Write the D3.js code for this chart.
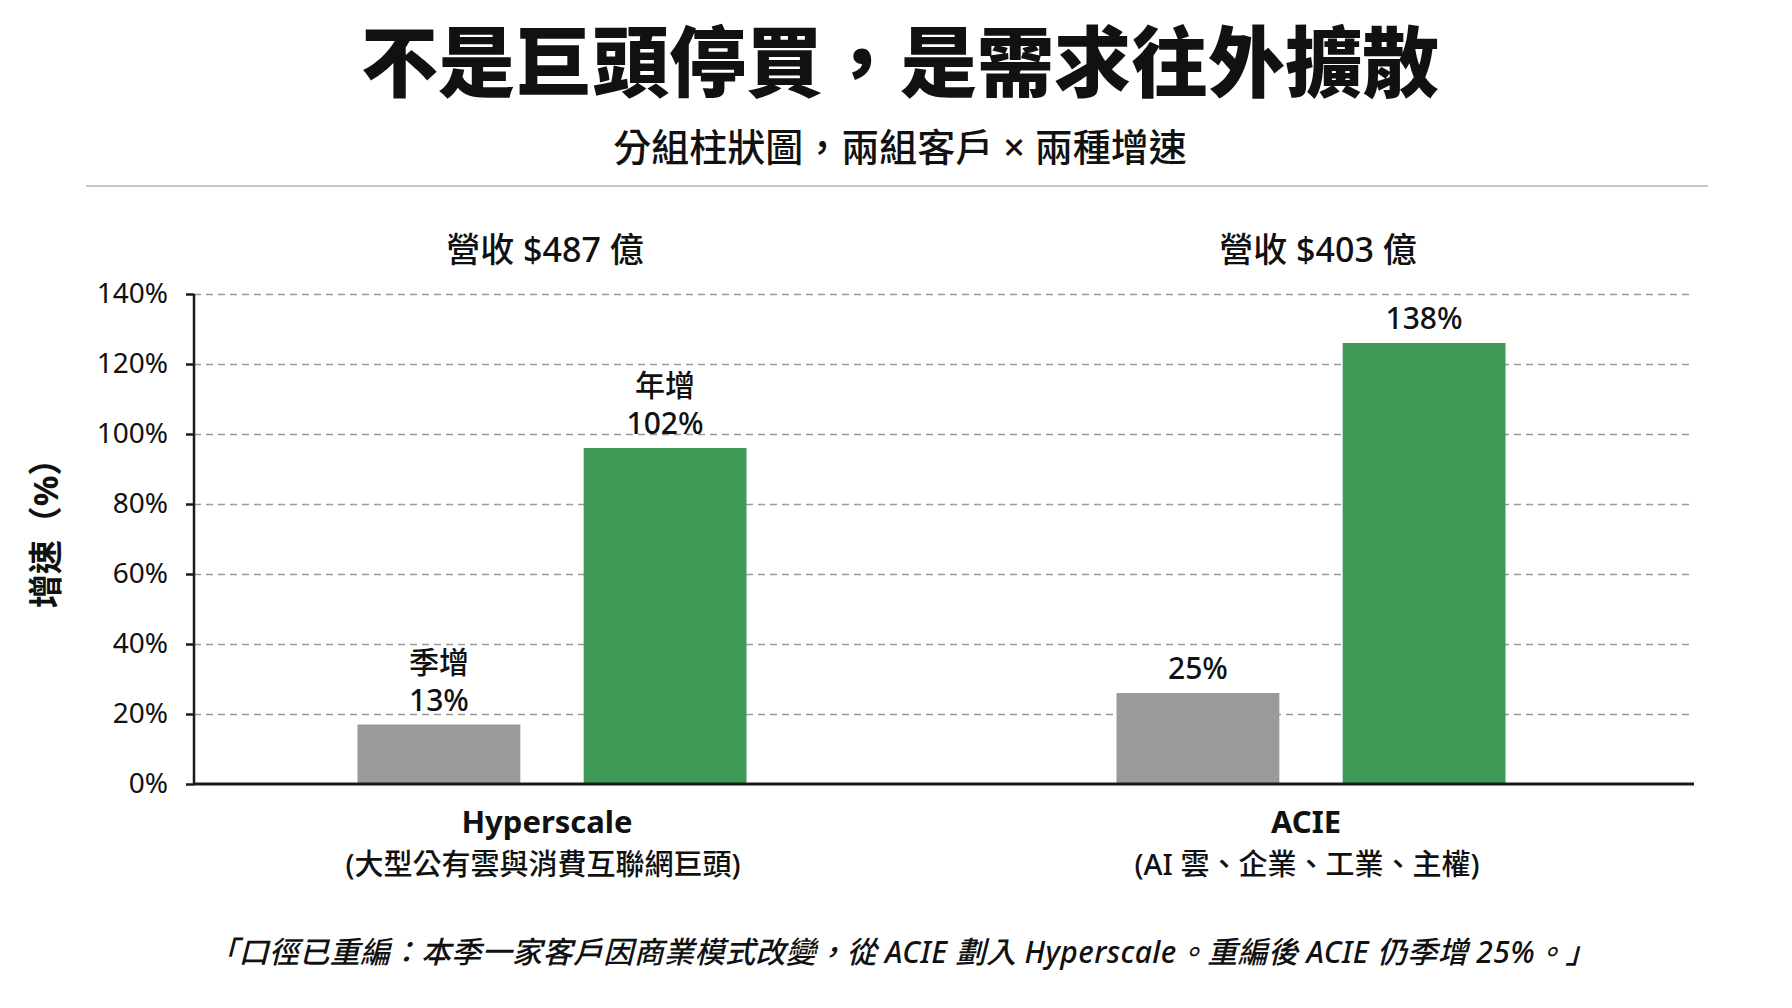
<!DOCTYPE html>
<html>
<head>
<meta charset="utf-8">
<script src="https://cdn.jsdelivr.net/npm/d3@7"></script>
<style>
  html, body { margin: 0; padding: 0; background: #ffffff; }
  svg { display: block; }
  text { font-family: "Noto Sans", "Noto Sans CJK TC", sans-serif; fill: #111; }
</style>
</head>
<body>
<div id="chart"></div>
<script>
// chart values
const groups = ["Hyperscale", "ACIE"];
const groupNotes = ["(大型公有雲與消費互聯網巨頭)", "(AI 雲、企業、工業、主權)"];
const groupRevenue = ["營收 $487 億", "營收 $403 億"];
const series = ["季增", "年增"];
const seriesColors = ["#9a9a9c", "#3f9a56"];
// bar heights as drawn in the picture (percent)
const qoqHeights = [17, 26];
const yoyHeights = [96, 126];
// text printed above each bar
const qoqLabels = [["季增", "13%"], ["25%"]];
const yoyLabels = [["年增", "102%"], ["138%"]];
const yTicks = [0, 20, 40, 60, 80, 100, 120, 140];

const titleText = "不是巨頭停買，是需求往外擴散";
const subtitleText = "分組柱狀圖，兩組客戶 × 兩種增速";
const yLabelText = "增速（%）";
const footnoteText = "「口徑已重編：本季一家客戶因商業模式改變，從 ACIE 劃入 Hyperscale。重編後 ACIE 仍季增 25%。」";

const width = 1792;
const height = 1008;
const plot = { left: 194, right: 1694, top: 294, bottom: 784 };

const svg = d3.select("#chart")
  .append("svg")
  .attr("width", width)
  .attr("height", height);

// title block
svg.append("text")
  .attr("x", 900).attr("y", 91)
  .attr("text-anchor", "middle")
  .style("font-size", "77px")
  .style("font-weight", 900)
  .text(titleText);

svg.append("text")
  .attr("x", 900).attr("y", 161)
  .attr("text-anchor", "middle")
  .style("font-size", "38px")
  .style("font-weight", 500)
  .text(subtitleText);

svg.append("line")
  .attr("x1", 86).attr("x2", 1708)
  .attr("y1", 186).attr("y2", 186)
  .style("stroke", "#c8c8c8")
  .style("stroke-width", 2);

// scales
const x0 = d3.scaleBand()
  .domain(groups)
  .range([171.5, 1689.5])
  .padding(0);

const x1 = d3.scaleBand()
  .domain(series)
  .range([186, 575])
  .paddingInner(0.28)
  .paddingOuter(0);

const y = d3.scaleLinear()
  .domain([0, 140])
  .range([plot.bottom, plot.top]);

// dashed gridlines
svg.append("g")
  .attr("class", "grid")
  .attr("transform", `translate(${plot.left},0)`)
  .call(d3.axisLeft(y).tickValues(yTicks.filter(d => d > 0)).tickSize(-(plot.right - plot.left)).tickFormat(""))
  .call(g => g.select(".domain").remove())
  .call(g => g.selectAll(".tick line")
    .style("stroke", "#9a9a9a")
    .style("stroke-width", 1.6)
    .style("stroke-dasharray", "7,5"));

// bars
const rows = groups.map((g, i) => ({
  group: g,
  bars: [
    { series: series[0], value: qoqHeights[i], label: qoqLabels[i], color: seriesColors[0] },
    { series: series[1], value: yoyHeights[i], label: yoyLabels[i], color: seriesColors[1] },
  ],
}));

const groupSel = svg.selectAll(".group")
  .data(rows)
  .enter()
  .append("g")
  .attr("class", "group")
  .attr("transform", d => `translate(${x0(d.group)},0)`);

groupSel.selectAll("rect")
  .data(d => d.bars)
  .enter()
  .append("rect")
  .attr("x", d => x1(d.series))
  .attr("width", x1.bandwidth())
  .attr("y", d => y(d.value))
  .attr("height", d => y(0) - y(d.value))
  .attr("fill", d => d.color);

// value labels above the bars
const lineGap = 38;
groupSel.selectAll(".bar-label")
  .data(d => d.bars)
  .enter()
  .append("text")
  .attr("class", "bar-label")
  .attr("text-anchor", "middle")
  .style("font-size", "30px")
  .style("font-weight", 500)
  .each(function (d) {
    const t = d3.select(this);
    const n = d.label.length;
    d.label.forEach((line, k) => {
      t.append("tspan")
        .attr("x", x1(d.series) + x1.bandwidth() / 2)
        .attr("y", y(d.value) - 14 - (n - 1 - k) * lineGap)
        .text(line);
    });
  });

// revenue headers above each group
const revenueShift = [-6, 8];
svg.selectAll(".revenue")
  .data(groups)
  .enter()
  .append("text")
  .attr("class", "revenue")
  .attr("x", (d, i) => x0(d) + x0.bandwidth() / 2 + revenueShift[i])
  .attr("y", 262)
  .attr("text-anchor", "middle")
  .style("font-size", "34px")
  .style("font-weight", 500)
  .text((d, i) => groupRevenue[i]);

// y axis
const yAxis = svg.append("g")
  .attr("transform", `translate(${plot.left},0)`)
  .call(d3.axisLeft(y).tickValues(yTicks).tickSize(8).tickPadding(18).tickFormat(d => d + "%"));

yAxis.select(".domain")
  .attr("d", `M0,${plot.top}V${plot.bottom}`)
  .style("stroke", "#1a1a1a")
  .style("stroke-width", 2.5);
yAxis.selectAll(".tick line").style("stroke", "#1a1a1a").style("stroke-width", 2.5);
yAxis.selectAll(".tick text")
  .style("font-size", "28px")
  .style("fill", "#111")
  .style("font-family", "\"Noto Sans\", \"Noto Sans CJK TC\", sans-serif");

// baseline
svg.append("line")
  .attr("x1", plot.left).attr("x2", plot.right)
  .attr("y1", y(0)).attr("y2", y(0))
  .style("stroke", "#1a1a1a")
  .style("stroke-width", 3);

// y axis title
svg.append("text")
  .attr("transform", `translate(58, 525) rotate(-90)`)
  .attr("text-anchor", "middle")
  .style("font-size", "34px")
  .style("font-weight", 700)
  .text(yLabelText);

// category labels under the axis
const cat = svg.selectAll(".cat")
  .data(groups)
  .enter()
  .append("g")
  .attr("class", "cat");

cat.append("text")
  .attr("x", d => x0(d) + x0.bandwidth() / 2 - 4)
  .attr("y", 833)
  .attr("text-anchor", "middle")
  .style("font-size", "31px")
  .style("font-weight", 700)
  .text(d => d);

cat.append("text")
  .attr("x", (d, i) => x0(d) + x0.bandwidth() / 2 + (i === 0 ? -8 : -3))
  .attr("y", 875)
  .attr("text-anchor", "middle")
  .style("font-size", "29px")
  .style("font-weight", 500)
  .text((d, i) => groupNotes[i]);

// footnote
svg.append("text")
  .attr("x", 902).attr("y", 963)
  .attr("text-anchor", "middle")
  .style("font-size", "30px")
  .style("letter-spacing", "0.4px")
  .style("font-style", "italic")
  .style("font-weight", 500)
  .text(footnoteText);
</script>
</body>
</html>
